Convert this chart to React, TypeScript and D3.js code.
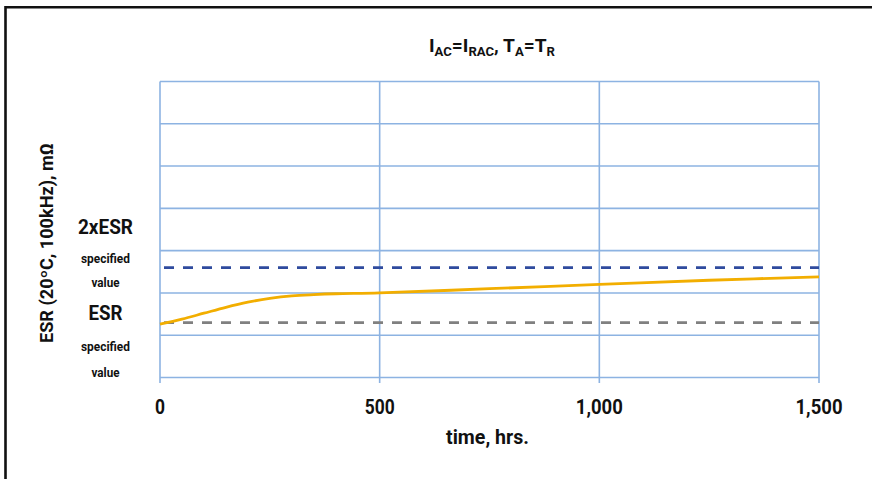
import React from "react";
import * as d3 from "d3";

const timeHrs = [0, 50, 100, 150, 200, 250, 300, 350, 400, 500, 750, 1000, 1250, 1500];
const esrValues = [1.26, 1.38, 1.52, 1.66, 1.78, 1.87, 1.93, 1.96, 1.98, 2.0, 2.1, 2.2, 2.3, 2.38];
const esrSpec = 1.3;
const esr2xSpec = 2.6;
const xTicks = [0, 500, 1000, 1500];
const yGrid = [0, 1, 2, 3, 4, 5, 6, 7];

const W = 872;
const H = 479;
const left = 160;
const right = 819;
const top = 81.5;
const bottom = 377.5;

const FONT = "Roboto, 'Noto Sans', sans-serif";

export default function App() {
  const x = d3.scaleLinear().domain([0, 1500]).range([left, right]);
  const y = d3.scaleLinear().domain([0, 7]).range([bottom, top]);
  const fmt = d3.format(",");
  const line = d3
    .line<number>()
    .x((_, i) => x(timeHrs[i]))
    .y((d) => y(d))
    .curve(d3.curveCatmullRom.alpha(0.5));

  const gridColor = "#8DB3E2";
  const tickWidths: Record<number, number> = { 0: 10, 500: 30, 1000: 47, 1500: 47 };

  return (
    <svg
      width={W}
      height={H}
      style={{ position: "absolute", left: 0, top: 0, background: "#fff" }}
      fontFamily={FONT}
    >
      <rect x={0} y={0} width={W} height={H} fill="#fff" />
      {/* outer border */}
      <path d={`M5.5,${H} V7.3 H${W}`} fill="none" stroke="#111" strokeWidth={2.6} />

      {/* title */}
      <text
        x={429}
        y={52}
        fontSize={19}
        fontWeight="bold"
        fill="#111"
        textLength={126}
        lengthAdjust="spacingAndGlyphs"
      >
        <tspan>I</tspan>
        <tspan fontSize={13} dy={4}>AC</tspan>
        <tspan dy={-4}>=I</tspan>
        <tspan fontSize={13} dy={4}>RAC</tspan>
        <tspan dy={-4}>, T</tspan>
        <tspan fontSize={13} dy={4}>A</tspan>
        <tspan dy={-4}>=T</tspan>
        <tspan fontSize={13} dy={4}>R</tspan>
      </text>

      {/* horizontal gridlines */}
      {yGrid.map((v) => (
        <line key={"h" + v} x1={left} x2={right} y1={y(v)} y2={y(v)} stroke={gridColor} strokeWidth={1.6} />
      ))}
      {/* vertical gridlines + ticks */}
      {xTicks.map((t) => (
        <line key={"v" + t} x1={x(t)} x2={x(t)} y1={top} y2={bottom + 5.5} stroke={gridColor} strokeWidth={1.6} />
      ))}

      {/* reference dashed lines */}
      <line
        x1={left}
        x2={right}
        y1={y(esr2xSpec)}
        y2={y(esr2xSpec)}
        stroke="#2F4B9E"
        strokeWidth={2.8}
        strokeDasharray="10,9"
        strokeDashoffset={-4}
      />
      <line
        x1={left}
        x2={right}
        y1={y(esrSpec)}
        y2={y(esrSpec)}
        stroke="#808080"
        strokeWidth={2.8}
        strokeDasharray="10,9"
        strokeDashoffset={-4}
      />

      {/* ESR curve */}
      <path d={line(esrValues) || ""} fill="none" stroke="#F2AE00" strokeWidth={2.8} />

      {/* x tick labels */}
      {xTicks.map((t) => (
        <text
          key={"xl" + t}
          x={x(t) - tickWidths[t] / 2}
          y={414}
          fontSize={20.5}
          fontWeight="bold"
          fill="#111"
          textLength={tickWidths[t]}
          lengthAdjust="spacingAndGlyphs"
        >
          {fmt(t)}
        </text>
      ))}
      <text
        x={446}
        y={444}
        fontSize={19.5}
        fontWeight="bold"
        fill="#111"
        textLength={83}
        lengthAdjust="spacingAndGlyphs"
      >
        time, hrs.
      </text>

      {/* y axis title */}
      <text
        transform={`translate(53,343) rotate(-90)`}
        fontSize={17.5}
        fontWeight="bold"
        fill="#111"
        textLength={200}
        lengthAdjust="spacingAndGlyphs"
      >
        ESR (20ºC, 100kHz), mΩ
      </text>

      {/* y labels */}
      <g fontWeight="bold" fill="#111">
        <text x={78} y={234} fontSize={20.5} textLength={55} lengthAdjust="spacingAndGlyphs">2xESR</text>
        <text x={81} y={263} fontSize={13.5} textLength={49} lengthAdjust="spacingAndGlyphs">specified</text>
        <text x={91.5} y={287} fontSize={13.5} textLength={28} lengthAdjust="spacingAndGlyphs">value</text>
        <text x={88.5} y={320} fontSize={20.5} textLength={34} lengthAdjust="spacingAndGlyphs">ESR</text>
        <text x={81} y={351} fontSize={13.5} textLength={49} lengthAdjust="spacingAndGlyphs">specified</text>
        <text x={91.5} y={377} fontSize={13.5} textLength={28} lengthAdjust="spacingAndGlyphs">value</text>
      </g>
    </svg>
  );
}
